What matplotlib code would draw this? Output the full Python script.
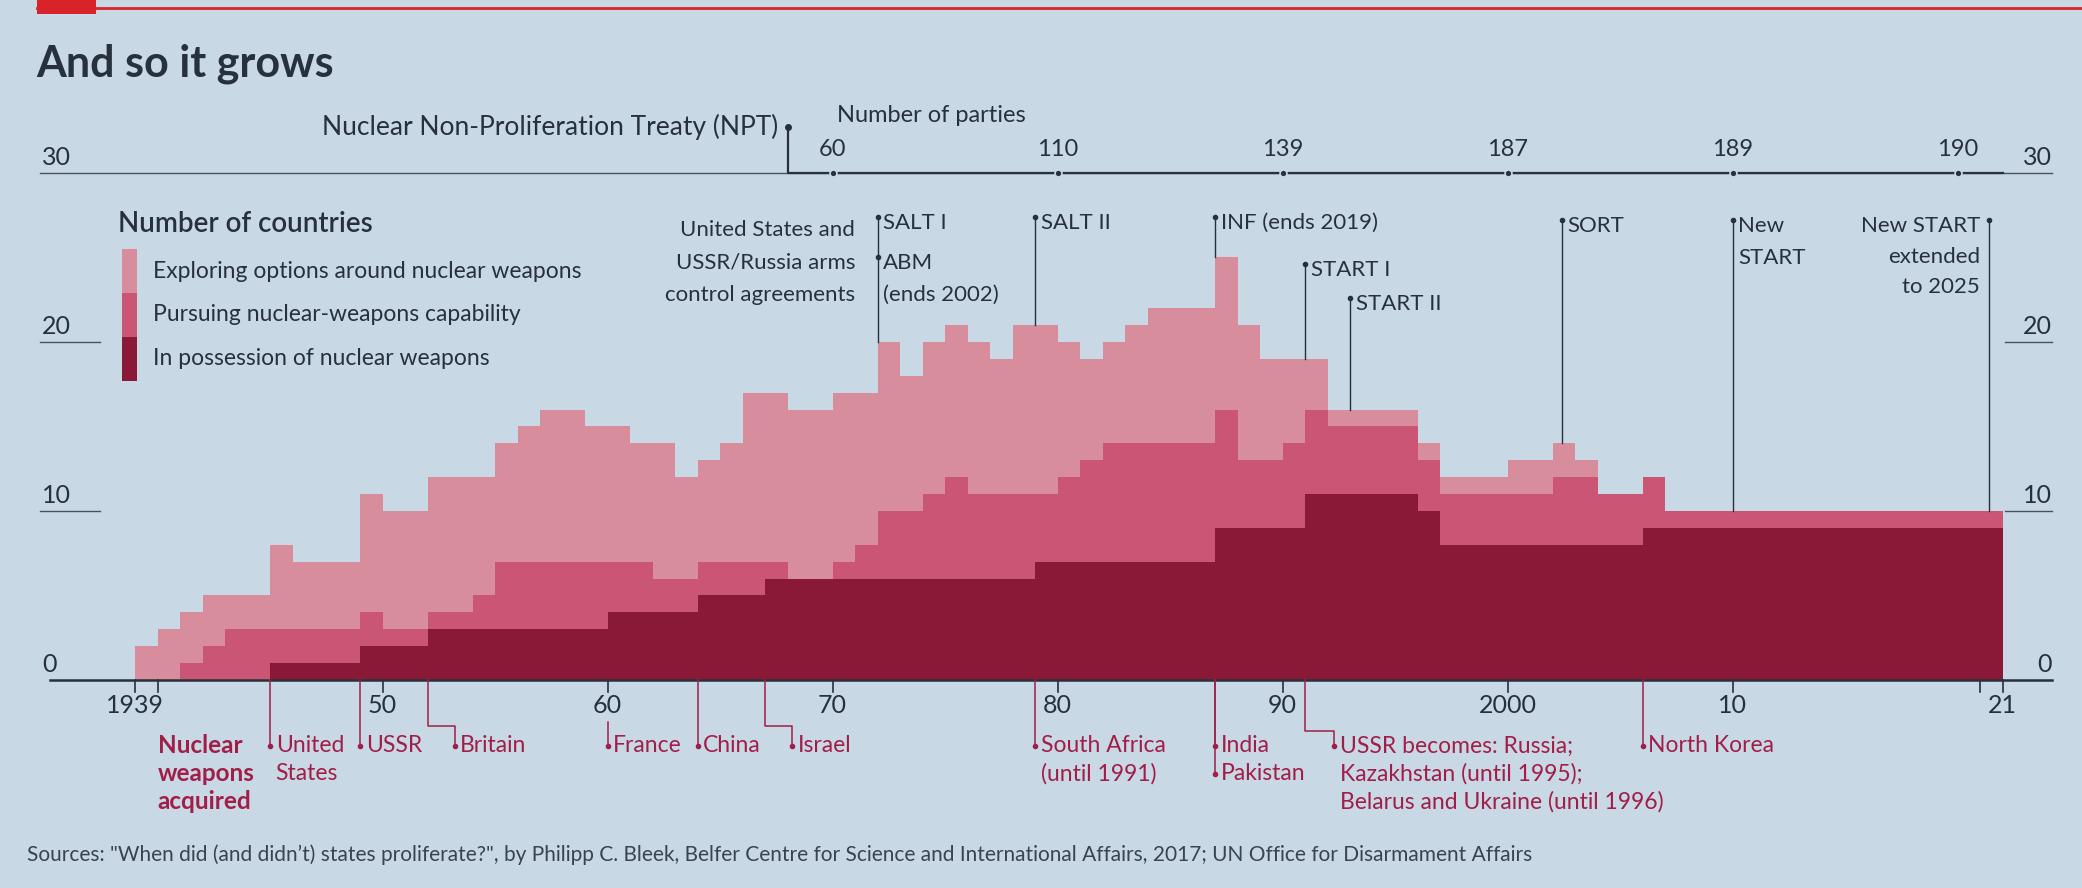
import matplotlib
matplotlib.use("Agg")
import matplotlib.pyplot as plt
from matplotlib.patches import Rectangle
import numpy as np

plt.rcParams['font.family'] = ['Lato', 'DejaVu Sans']

# ---- data ----
years = list(range(1939, 2022))
possession = [0, 0, 0, 0, 0, 0, 1, 1, 1, 1,
              2, 2, 2, 3, 3, 3, 3, 3, 3, 3,
              3, 4, 4, 4, 4, 5, 5, 5, 6, 6,
              6, 6, 6, 6, 6, 6, 6, 6, 6, 6,
              7, 7, 7, 7, 7, 7, 7, 7, 9, 9,
              9, 9, 11, 11, 11, 11, 11, 10, 8, 8,
              8, 8, 8, 8, 8, 8, 8, 9, 9, 9,
              9, 9, 9, 9, 9, 9, 9, 9, 9, 9,
              9, 9, 9]
pursuing = [0, 0, 1, 2, 3, 3, 2, 2, 2, 2,
            2, 1, 1, 1, 1, 2, 4, 4, 4, 4,
            4, 3, 3, 2, 2, 2, 2, 2, 1, 0,
            0, 1, 2, 4, 4, 5, 6, 5, 5, 5,
            4, 5, 6, 7, 7, 7, 7, 7, 7, 4,
            4, 5, 5, 4, 4, 4, 4, 3, 3, 3,
            3, 3, 3, 4, 4, 3, 3, 3, 1, 1,
            1, 1, 1, 1, 1, 1, 1, 1, 1, 1,
            1, 1, 1]
exploring = [2, 3, 3, 3, 2, 2, 5, 4, 4, 4,
             7, 7, 7, 8, 8, 7, 7, 8, 9, 9,
             8, 8, 7, 8, 6, 6, 7, 10, 10, 10,
             10, 10, 9, 10, 8, 9, 9, 9, 8, 10,
             10, 8, 6, 6, 7, 8, 8, 8, 9, 8,
             6, 5, 3, 1, 1, 1, 1, 1, 1, 1,
             1, 2, 2, 2, 1, 0, 0, 0, 0, 0,
             0, 0, 0, 0, 0, 0, 0, 0, 0, 0,
             0, 0, 0]

npt_years = [1970, 1980, 1990, 2000, 2010, 2020]
npt_parties = [60, 110, 139, 187, 189, 190]

tick_years = [1939, 1950, 1960, 1970, 1980, 1990, 2000, 2010, 2022]
tick_labels = ['1939', '50', '60', '70', '80', '90', '2000', '10', '21']

# ---- style ----
BG = '#c9d8e5'
NAVY = '#27313d'
RED_TXT = '#a11e48'
LIGHT = '#d88d9d'
MID = '#cb5574'
DARK = '#8a1938'
ECON_RED = '#d8232a'

W, H = 2082, 888
X_1939, PX_YR = 135, 22.5
Y_BASE, PX_UNIT = 680, 16.9


def px2x(px):
    return 1939 + (px - X_1939) / PX_YR


def py2y(py):
    return (Y_BASE - py) / PX_UNIT


fig = plt.figure(figsize=(W / 100, H / 100), dpi=100)
fig.patch.set_facecolor(BG)
ax = fig.add_axes([0, 0, 1, 1])
ax.set_facecolor(BG)
ax.set_xlim(px2x(0), px2x(W))
ax.set_ylim(py2y(H), py2y(0))
ax.axis('off')

# stacked steps
d = np.array(possession)
p = d + np.array(pursuing)
e = p + np.array(exploring)
edges = years + [years[-1] + 1]
ax.fill_between(edges, 0, np.append(e, e[-1]), step='post', color=LIGHT, lw=0)
ax.fill_between(edges, 0, np.append(p, p[-1]), step='post', color=MID, lw=0)
ax.fill_between(edges, 0, np.append(d, d[-1]), step='post', color=DARK, lw=0)


def top_at(x):
    return e[int(x) - years[0]]


# top band: red rule and title
ax.add_patch(Rectangle((px2x(37), py2y(14)), px2x(96) - px2x(37), py2y(0) - py2y(14),
                       color=ECON_RED, lw=0, clip_on=False))
ax.plot([px2x(37), px2x(W)], [py2y(8), py2y(8)], color=ECON_RED, lw=2)
ax.text(px2x(36), py2y(64), 'And so it grows', fontsize=31, fontweight='bold',
        color=NAVY, va='center', ha='left')

# axis lines and value labels
ax.plot([px2x(40), px2x(2052)], [30, 30], color='#4a5260', lw=1)
ax.plot([px2x(50), px2x(2052)], [0, 0], color=NAVY, lw=1.8)
for v in [10, 20]:
    ax.plot([px2x(40), px2x(100)], [v, v], color='#4a5260', lw=1)
    ax.plot([px2x(2005), px2x(2052)], [v, v], color='#4a5260', lw=1)
for v in [0, 10, 20, 30]:
    ax.text(px2x(42), v + 0.25, str(v), fontsize=18, color=NAVY, ha='left', va='bottom')
    ax.text(px2x(2052), v + 0.25, str(v), fontsize=18, color=NAVY, ha='right', va='bottom')

# x ticks
for x in [1939, 1940, 1950, 1960, 1970, 1980, 1990, 2000, 2010, 2021, 2022]:
    ax.plot([x, x], [0, -0.7], color=NAVY, lw=1.2)
for x, lab in zip(tick_years, tick_labels):
    ax.text(x, -0.85, lab, fontsize=18, color=NAVY, ha='center', va='top')

# NPT line
ax.plot([1968, 1968, 2022], [32.7, 30, 30], color=NAVY, lw=1.6)
ax.plot([1968], [32.7], 'o', color=NAVY, ms=4)
ax.text(1967.6, 32.7, 'Nuclear Non-Proliferation Treaty (NPT)', fontsize=19,
        color=NAVY, ha='right', va='center')
ax.text(1970.2, 33.4, 'Number of parties', fontsize=17, color=NAVY, ha='left', va='center')
for x, n in zip(npt_years, npt_parties):
    ax.plot([x], [30], 'o', color=NAVY, ms=5, mec=BG, mew=1.2, zorder=5)
    ax.text(x, 31.4, str(n), fontsize=17, color=NAVY, ha='center', va='center')

# arms control agreements
for i, line in enumerate(['United States and', 'USSR/Russia arms', 'control agreements']):
    ax.text(1971.0, 26.6 - 1.9 * i, line, fontsize=16, color=NAVY, ha='right', va='center')

agreements = [('SALT I', 1972, 27.4), ('SALT II', 1979, 27.4),
              ('INF (ends 2019)', 1987, 27.4), ('START I', 1991, 24.6),
              ('START II', 1993, 22.6), ('SORT', 2002.4, 27.2)]
for name, x, yd in agreements:
    ax.plot([x, x], [yd, top_at(x)], color=NAVY, lw=1)
    ax.plot([x], [yd], 'o', color=NAVY, ms=3)
    ax.text(x + 0.25, yd - 0.35, name, fontsize=16, color=NAVY, ha='left', va='center')
ax.plot([1972], [25.0], 'o', color=NAVY, ms=3)
ax.text(1972.25, 24.65, 'ABM', fontsize=16, color=NAVY, ha='left', va='center')
ax.text(1972.25, 22.8, '(ends 2002)', fontsize=16, color=NAVY, ha='left', va='center')

ax.plot([2010, 2010], [27.2, top_at(2010)], color=NAVY, lw=1)
ax.plot([2010], [27.2], 'o', color=NAVY, ms=3)
ax.text(2010.25, 26.85, 'New', fontsize=16, color=NAVY, ha='left', va='center')
ax.text(2010.25, 25.0, 'START', fontsize=16, color=NAVY, ha='left', va='center')

ax.plot([2021.4, 2021.4], [27.2, top_at(2021)], color=NAVY, lw=1)
ax.plot([2021.4], [27.2], 'o', color=NAVY, ms=3)
for i, line in enumerate(['New START', 'extended', 'to 2025']):
    ax.text(2021.0, 26.85 - 1.8 * i, line, fontsize=16, color=NAVY, ha='right', va='center')

# legend
ax.text(px2x(118), 27.0, 'Number of countries', fontsize=20, fontweight='semibold',
        color=NAVY, ha='left', va='center')
leg = [('Exploring options around nuclear weapons', LIGHT),
       ('Pursuing nuclear-weapons capability', MID),
       ('In possession of nuclear weapons', DARK)]
seg = 2.6
for i, (lab, col) in enumerate(leg):
    y1 = 25.5 - seg * i
    ax.add_patch(Rectangle((px2x(122), y1 - seg), px2x(137) - px2x(122), seg,
                           color=col, lw=0))
    ax.text(px2x(153), y1 - seg / 2, lab, fontsize=16.5, color=NAVY, ha='left', va='center')

# nuclear weapons acquired
R1, R2, R3 = -3.9, -5.55, -7.2
for i, w in enumerate(['Nuclear', 'weapons', 'acquired']):
    ax.text(1940.0, [R1, R2, R3][i], w, fontsize=17.5, fontweight='bold',
            color=RED_TXT, ha='left', va='center')


def leader(x, y_end, lines, y_start=0, elbow=None):
    if elbow is None:
        ax.plot([x, x], [y_start, y_end], color=RED_TXT, lw=1.1)
        xt = x
    else:
        ye, dx = elbow
        xt = x + dx
        ax.plot([x, x, xt, xt], [y_start, ye, ye, y_end], color=RED_TXT, lw=1.1)
    ax.plot([xt], [y_end], 'o', color=RED_TXT, ms=3)
    for i, line in enumerate(lines):
        ax.text(xt + 0.25, y_end - 1.65 * i, line, fontsize=16.5, color=RED_TXT,
                ha='left', va='center')


leader(1945, R1, ['United', 'States'])
leader(1949, R1, ['USSR'])
leader(1952, R1, ['Britain'], elbow=(-2.7, 1.2))
leader(1960, R1, ['France'], y_start=-2.5)
leader(1964, R1, ['China'])
leader(1967, R1, ['Israel'], elbow=(-2.7, 1.2))
leader(1979, R1, ['South Africa', '(until 1991)'])
leader(1987, R2, ['Pakistan'])
leader(1987, R1, ['India'])
leader(1991, R1, ['USSR becomes: Russia;', 'Kazakhstan (until 1995);',
                  'Belarus and Ukraine (until 1996)'], elbow=(-3.0, 1.3))
leader(2006, R1, ['North Korea'])

ax.text(px2x(27), py2y(855),
        'Sources: "When did (and didn\u2019t) states proliferate?", by Philipp C. Bleek, '
        'Belfer Centre for Science and International Affairs, 2017; UN Office for Disarmament Affairs',
        fontsize=15, color='#3a4350', ha='left', va='center')

fig.savefig('out.png', dpi=100, facecolor=BG)
